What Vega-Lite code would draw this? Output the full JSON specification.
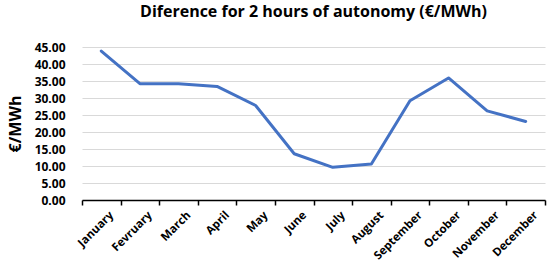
{
  "$schema": "https://vega.github.io/schema/vega-lite/v6.json",
  "width": 550,
  "height": 266,
  "autosize": {"type": "fit", "contains": "padding"},
  "padding": {"left": 7, "right": 4, "top": 4, "bottom": 4},
  "background": "white",
  "title": {
    "text": "Diference for 2 hours of autonomy (€/MWh)",
    "font": "Open Sans",
    "fontSize": 16,
    "fontWeight": "bold",
    "color": "#000000",
    "anchor": "middle",
    "offset": 21
  },
  "data": {
    "values": [
      {"month": "January", "value": 43.8},
      {"month": "Fevruary", "value": 34.2},
      {"month": "March", "value": 34.2},
      {"month": "April", "value": 33.4},
      {"month": "May", "value": 27.8},
      {"month": "June", "value": 13.6},
      {"month": "July", "value": 9.6},
      {"month": "August", "value": 10.6},
      {"month": "September", "value": 29.2},
      {"month": "October", "value": 35.9},
      {"month": "November", "value": 26.2},
      {"month": "December", "value": 23.1}
    ]
  },
  "mark": {"type": "line", "color": "#4472C4", "strokeWidth": 3, "strokeCap": "round", "strokeJoin": "round"},
  "encoding": {
    "x": {
      "field": "month",
      "type": "nominal",
      "sort": null,
      "scale": {"type": "band", "paddingInner": 0, "paddingOuter": 0},
      "axis": {
        "title": null,
        "labelAngle": -45,
        "labelAlign": "right",
        "labelBaseline": "top",
        "labelFont": "Open Sans",
        "labelFontSize": 11.5,
        "labelFontWeight": "bold",
        "labelColor": "#000000",
        "labelPadding": 4,
        "labelOffset": 6,
        "domainColor": "#000000",
        "domainWidth": 1.5,
        "tickColor": "#000000",
        "tickWidth": 1.5,
        "tickSize": 5,
        "tickBand": "extent",
        "grid": false
      }
    },
    "y": {
      "field": "value",
      "type": "quantitative",
      "scale": {"domain": [0, 45], "nice": false},
      "axis": {
        "title": "€/MWh",
        "titleFont": "Open Sans",
        "titleFontSize": 16,
        "titleFontWeight": "bold",
        "titleColor": "#000000",
        "titlePadding": 11,
        "values": [0, 5, 10, 15, 20, 25, 30, 35, 40, 45],
        "format": ".2f",
        "labelFont": "Open Sans",
        "labelFontSize": 12,
        "labelFontWeight": "bold",
        "labelColor": "#000000",
        "labelPadding": 17,
        "domain": false,
        "ticks": false,
        "grid": true,
        "gridColor": "#d9d9d9",
        "gridWidth": 1
      }
    }
  },
  "config": {"view": {"stroke": null}}
}
